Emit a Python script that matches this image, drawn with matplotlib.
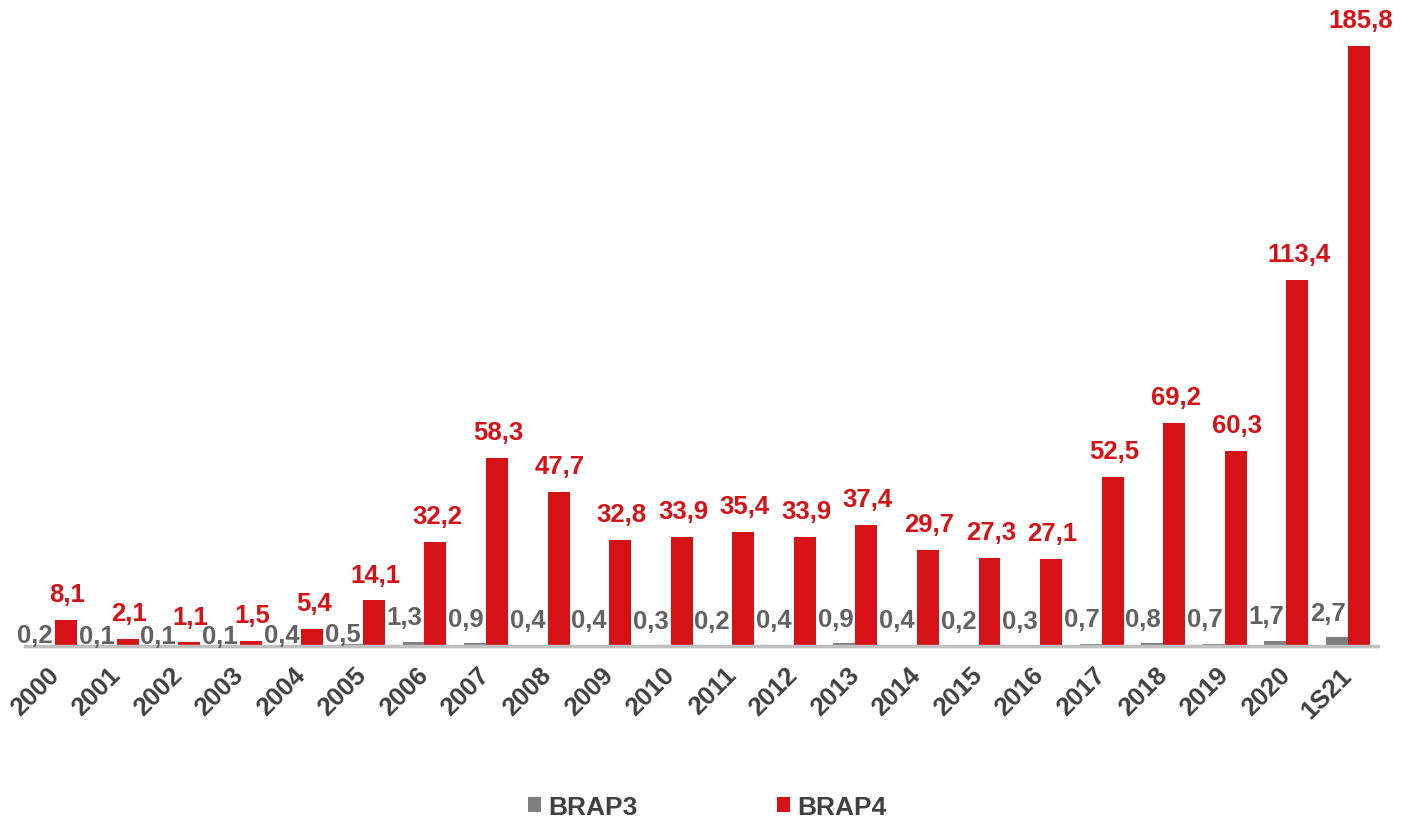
import matplotlib
matplotlib.use("Agg")
import matplotlib.pyplot as plt
import numpy as np

categories = ["2000", "2001", "2002", "2003", "2004", "2005", "2006", "2007", "2008",
              "2009", "2010", "2011", "2012", "2013", "2014", "2015", "2016", "2017",
              "2018", "2019", "2020", "1S21"]
brap3 = [0.2, 0.1, 0.1, 0.1, 0.4, 0.5, 1.3, 0.9, 0.4, 0.4, 0.3, 0.2, 0.4, 0.9, 0.4,
         0.2, 0.3, 0.7, 0.8, 0.7, 1.7, 2.7]
brap4 = [8.1, 2.1, 1.1, 1.5, 5.4, 14.1, 32.2, 58.3, 47.7, 32.8, 33.9, 35.4, 33.9, 37.4,
         29.7, 27.3, 27.1, 52.5, 69.2, 60.3, 113.4, 185.8]
series_names = ["BRAP3", "BRAP4"]

GRAY = "#7f7f7f"
RED = "#d51317"
LBL_GRAY = "#626262"
TXT = "#404040"

plt.rcParams['font.family'] = ['Liberation Sans', 'DejaVu Sans']

fig = plt.figure(figsize=(14.14, 8.2), dpi=100)
ax = fig.add_axes([25/1414, 173/820, 1353/1414, 647/820])

x = np.arange(len(categories))
w = 0.357
b3 = ax.bar(x - w/2, brap3, w, color=GRAY, label=series_names[0])
b4 = ax.bar(x + w/2, brap4, w, color=RED, label=series_names[1])

ax.set_xlim(-0.49, len(categories) - 0.51)
ax.set_ylim(0, 200.4)

def fmt(v):
    return f"{v:.1f}".replace(".", ",")

# pixel height of a data unit, for label collision avoidance (like Excel)
px_per_unit = ax.transData.transform((0, 1))[1] - ax.transData.transform((0, 0))[1]
pt = fig.dpi / 72.0
for xi, v3, v4 in zip(x, brap3, brap4):
    red_label_bottom = v4 * px_per_unit + 11 * pt
    gray_label_top = v3 * px_per_unit + 9 * pt + 27
    dy = 9 if red_label_bottom - gray_label_top > 30 else -1.5
    ax.annotate(fmt(v3), (xi - w/2, v3), xytext=(-6.5, dy), textcoords="offset points",
                ha="center", va="bottom", fontsize=18.5, fontweight="bold",
                color=LBL_GRAY, clip_on=False)
    ax.annotate(fmt(v4), (xi + w/2, v4), xytext=(1, 10), textcoords="offset points",
                ha="center", va="bottom", fontsize=18.5, fontweight="bold",
                color=RED, clip_on=False)

ax.set_yticks([])
for s in ["top", "right", "left"]:
    ax.spines[s].set_visible(False)
ax.spines["bottom"].set_color("#bfbfbf")
ax.spines["bottom"].set_linewidth(2.5)

ax.set_xticks(x)
ax.set_xticklabels(categories, rotation=45, ha="right", va="center",
                   rotation_mode="anchor", fontsize=18.5, fontweight="bold", color=TXT)
ax.tick_params(axis="x", length=0, pad=18)

leg = fig.legend(handles=[b3, b4], labels=series_names, loc="center",
                 bbox_to_anchor=(0.5, 12/820), ncol=2, frameon=False,
                 prop={"size": 19, "weight": "bold"}, handlelength=0.5,
                 handleheight=0.5, handletextpad=0.25, columnspacing=5.3)
for t in leg.get_texts():
    t.set_color(TXT)

fig.savefig("out.png", dpi=100)
